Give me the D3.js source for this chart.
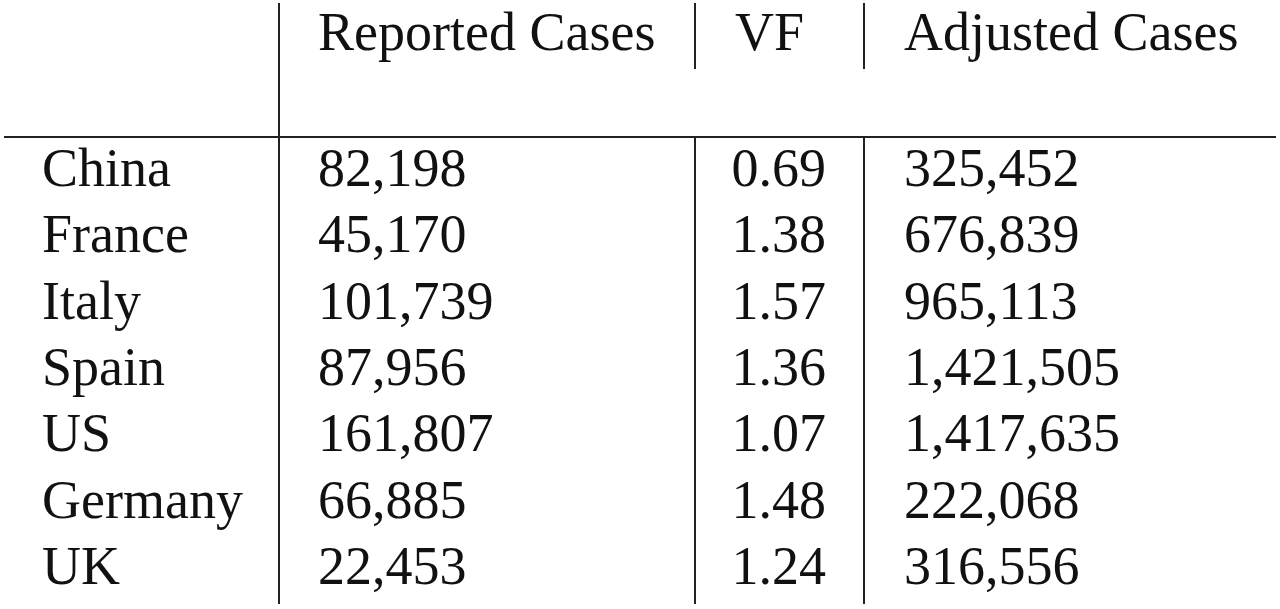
<!DOCTYPE html>
<html>
<head>
<meta charset="utf-8">
<script src="https://cdn.jsdelivr.net/npm/d3@7"></script>
<style>
  body { margin: 0; background: #fff; }
  text { font-family: "Liberation Serif", "DejaVu Serif", serif; fill: #111; }
</style>
</head>
<body>
<script>
(function(){

    //table data
    var headers = ["Reported Cases", "VF", "Adjusted Cases"];
    var countries = ["China", "France", "Italy", "Spain", "US", "Germany", "UK"];
    var reported = [82198, 45170, 101739, 87956, 161807, 66885, 22453];
    var vf = [0.69, 1.38, 1.57, 1.36, 1.07, 1.48, 1.24];
    var adjusted = [325452, 676839, 965113, 1421505, 1417635, 222068, 316556];

    var width = 1280, height = 609;

    var svg = d3.select("body").append("svg")
        .attr("width", width)
        .attr("height", height);

    //row baselines
    var y = d3.scaleLinear().domain([0, countries.length - 1]).range([186, 584]);
    var fmt = d3.format(",");
    var fmtVF = d3.format(".2f");

    //rules
    var rule = svg.append("g")
        .attr("stroke", "#222")
        .attr("stroke-width", 2);
    rule.append("line").attr("x1", 279).attr("x2", 279).attr("y1", 3).attr("y2", 604);
    rule.append("line").attr("x1", 4).attr("x2", 1276).attr("y1", 137).attr("y2", 137);
    [695, 864].forEach(function(x){
        rule.append("line").attr("x1", x).attr("x2", x).attr("y1", 3).attr("y2", 69);
        rule.append("line").attr("x1", x).attr("x2", x).attr("y1", 137).attr("y2", 604);
    });

    function addText(x, yy, str, anchor){
        svg.append("text")
            .attr("x", x)
            .attr("y", yy)
            .attr("text-anchor", anchor || "start")
            .attr("font-size", 54)
            .text(str);
    }

    //header
    var headerX = [318, 735, 904];
    headers.forEach(function(h, i){ addText(headerX[i], 50, h); });

    //body rows
    countries.forEach(function(c, i){
        addText(42, y(i), c);
        addText(318, y(i), fmt(reported[i]));
        addText(826, y(i), fmtVF(vf[i]), "end");
        addText(904, y(i), fmt(adjusted[i]));
    });
})();
</script>
</body>
</html>
